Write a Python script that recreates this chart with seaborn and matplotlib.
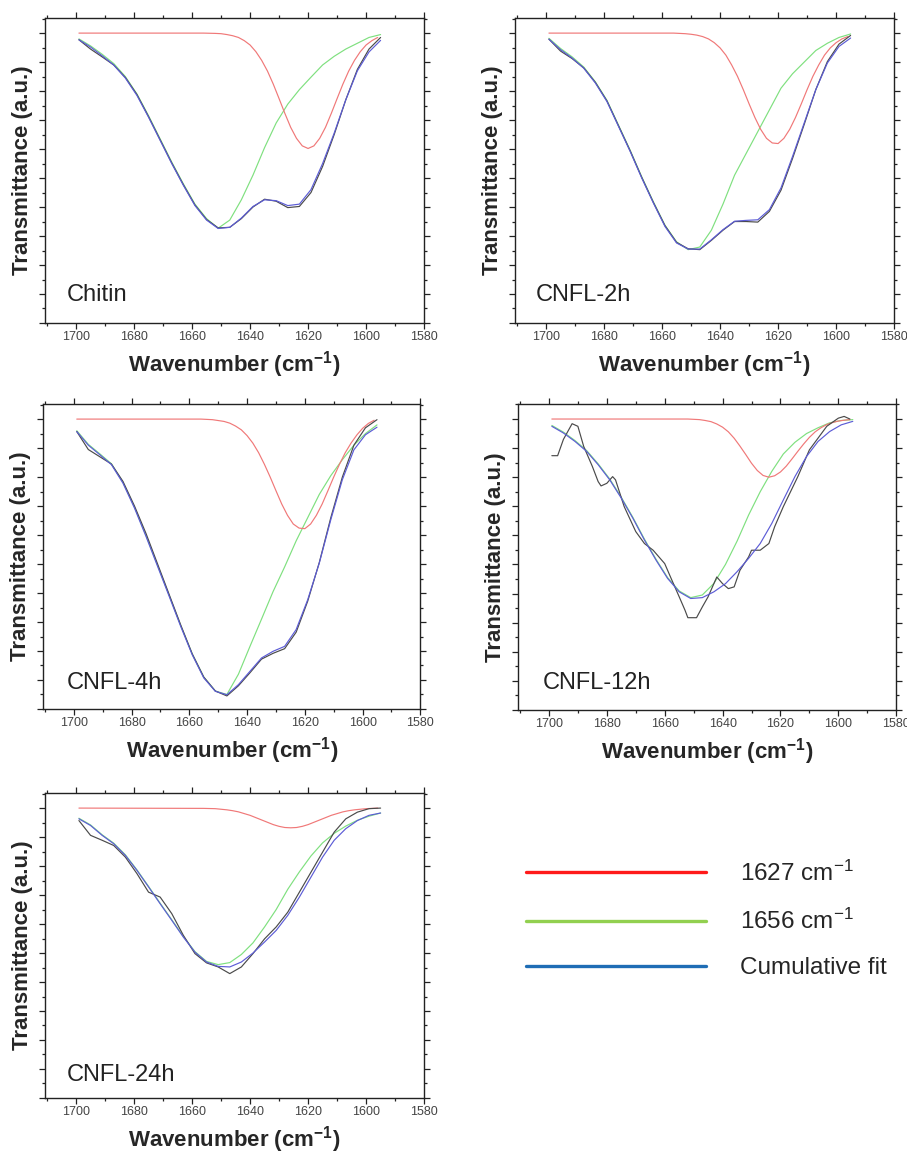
import numpy as np
import pandas as pd
import matplotlib
matplotlib.use('Agg')
import matplotlib.pyplot as plt
from matplotlib.lines import Line2D
from matplotlib.ticker import MultipleLocator
import seaborn as sns

# Wavenumber grid (cm-1) shared by the 1656 band, the fit and most spectra
wn = [1699, 1695, 1691, 1687, 1683, 1679, 1675, 1671, 1667, 1663, 1659, 1655, 1651,
      1647, 1643, 1639, 1635, 1631, 1627, 1623, 1619, 1615, 1611, 1607, 1603, 1599, 1595]
# finer grid for the narrower 1627 band
wn_red = [1699, 1656, 1652, 1650, 1648, 1646, 1644, 1642, 1640, 1638, 1636, 1634, 1632,
          1630, 1628, 1626, 1624, 1622, 1620, 1618, 1616, 1614, 1612, 1610, 1608, 1606,
          1604, 1602, 1600, 1598, 1596]

# Chitin
chitin_red = [10, 10, 9.99, 9.98, 9.95, 9.91, 9.85, 9.74, 9.59, 9.36, 9.06, 8.69, 8.24,
              7.74, 7.23, 6.75, 6.37, 6.11, 6.02, 6.11, 6.37, 6.75, 7.23, 7.74, 8.24, 8.69,
              9.06, 9.36, 9.59, 9.74, 9.85]
chitin_green = [9.80, 9.56, 9.27, 8.95, 8.50, 7.90, 7.15, 6.35, 5.55, 4.80, 4.10, 3.60, 3.27,
                3.55, 4.25, 5.10, 6.05, 6.90, 7.55, 8.05, 8.48, 8.90, 9.20, 9.45, 9.65, 9.85, 9.95]
chitin_fit = [9.77, 9.52, 9.22, 8.90, 8.45, 7.85, 7.10, 6.30, 5.50, 4.75, 4.05, 3.55, 3.26,
              3.30, 3.62, 4.02, 4.25, 4.22, 4.05, 4.10, 4.60, 5.50, 6.55, 7.70, 8.70, 9.35, 9.75]
chitin_data = [9.77, 9.45, 9.18, 8.90, 8.47, 7.88, 7.12, 6.32, 5.52, 4.77, 4.07, 3.57, 3.28,
               3.30, 3.60, 4.00, 4.27, 4.20, 3.98, 4.02, 4.50, 5.40, 6.50, 7.70, 8.75, 9.45, 9.85]

# CNFL-2h
cnfl2_red = [10, 10, 9.98, 9.96, 9.93, 9.88, 9.80, 9.67, 9.49, 9.24, 8.90, 8.51, 8.05,
             7.56, 7.09, 6.68, 6.37, 6.21, 6.19, 6.37, 6.68, 7.09, 7.56, 8.05, 8.51, 8.90,
             9.24, 9.49, 9.67, 9.80, 9.88]
cnfl2_green = [9.82, 9.47, 9.18, 8.83, 8.32, 7.68, 6.82, 5.96, 5.04, 4.18, 3.37, 2.80, 2.53,
               2.62, 3.20, 4.10, 5.10, 5.85, 6.60, 7.35, 8.10, 8.60, 9.00, 9.40, 9.65, 9.85, 9.97]
cnfl2_fit = [9.79, 9.43, 9.14, 8.79, 8.28, 7.64, 6.78, 5.92, 5.00, 4.14, 3.33, 2.76, 2.55,
             2.55, 2.87, 3.22, 3.51, 3.54, 3.56, 3.91, 4.66, 5.75, 6.90, 8.05, 8.97, 9.54, 9.83]
cnfl2_data = [9.79, 9.38, 9.12, 8.80, 8.30, 7.66, 6.80, 5.94, 5.02, 4.16, 3.36, 2.78, 2.56,
              2.53, 2.85, 3.20, 3.50, 3.50, 3.48, 3.85, 4.58, 5.68, 6.85, 8.05, 9.02, 9.62, 9.92]

# CNFL-4h
cnfl4_red = [10, 10, 9.98, 9.95, 9.92, 9.86, 9.76, 9.63, 9.43, 9.17, 8.84, 8.44, 8.00,
             7.53, 7.07, 6.68, 6.38, 6.24, 6.22, 6.38, 6.68, 7.07, 7.53, 8.00, 8.44, 8.84,
             9.17, 9.45, 9.68, 9.85, 9.96]
cnfl4_green = [9.60, 9.13, 8.80, 8.46, 7.82, 6.96, 5.98, 4.95, 3.92, 2.88, 1.90, 1.10, 0.62,
               0.50, 1.20, 2.16, 3.10, 4.05, 4.90, 5.80, 6.60, 7.40, 8.05, 8.60, 9.10, 9.50, 9.80]
cnfl4_fit = [9.57, 9.10, 8.77, 8.43, 7.79, 6.93, 5.95, 4.92, 3.89, 2.85, 1.87, 1.07, 0.61,
             0.49, 0.84, 1.30, 1.76, 1.99, 2.16, 2.74, 3.77, 5.03, 6.53, 7.91, 8.94, 9.46, 9.72]
cnfl4_data = [9.57, 8.95, 8.70, 8.45, 7.85, 7.00, 6.05, 5.00, 3.95, 2.90, 1.90, 1.10, 0.62,
              0.45, 0.80, 1.25, 1.72, 1.92, 2.08, 2.65, 3.72, 5.05, 6.60, 8.00, 9.10, 9.70, 9.98]

# CNFL-12h
cnfl12_red = [10, 10, 10.0, 9.99, 9.98, 9.95, 9.91, 9.83, 9.72, 9.56, 9.34, 9.07, 8.78,
              8.48, 8.23, 8.06, 8.00, 8.05, 8.18, 8.38, 8.63, 8.89, 9.14, 9.37, 9.56, 9.70,
              9.81, 9.88, 9.93, 9.96, 9.98]
cnfl12_green = [9.78, 9.55, 9.26, 8.92, 8.46, 7.94, 7.31, 6.62, 5.87, 5.18, 4.55, 4.09, 3.86,
                3.95, 4.35, 5.00, 5.80, 6.70, 7.50, 8.20, 8.80, 9.20, 9.50, 9.70, 9.87, 9.95, 9.98]
cnfl12_fit = [9.75, 9.52, 9.23, 8.89, 8.43, 7.91, 7.28, 6.59, 5.84, 5.15, 4.52, 4.06, 3.83,
              3.86, 4.06, 4.34, 4.75, 5.21, 5.72, 6.41, 7.22, 8.02, 8.71, 9.23, 9.57, 9.80, 9.92]
wn_12h_data = [1699, 1697, 1695, 1692, 1690, 1688, 1685, 1683, 1682, 1680, 1678, 1677, 1674,
               1670, 1667, 1664, 1660, 1658, 1655, 1653, 1652, 1649, 1647, 1645, 1642, 1640,
               1638, 1636, 1634, 1631, 1630, 1627, 1624, 1622, 1619, 1614, 1610, 1604, 1600,
               1598, 1596]
cnfl12_data = [8.74, 8.74, 9.30, 9.84, 9.75, 9.06, 8.37, 7.85, 7.70, 7.79, 8.02, 7.91, 6.99,
               6.13, 5.72, 5.49, 5.03, 4.57, 3.89, 3.43, 3.17, 3.17, 3.54, 3.89, 4.57, 4.34,
               4.17, 4.23, 4.80, 5.26, 5.49, 5.49, 5.72, 6.30, 6.99, 8.02, 8.94, 9.75, 10.03,
               10.09, 10.0]

# CNFL-24h
cnfl24_red = [10, 9.99, 9.98, 9.96, 9.94, 9.91, 9.87, 9.81, 9.75, 9.67, 9.59, 9.51, 9.43,
              9.37, 9.33, 9.32, 9.33, 9.37, 9.43, 9.51, 9.59, 9.67, 9.75, 9.81, 9.87, 9.91,
              9.94, 9.96, 9.98, 9.99, 10.0]
cnfl24_green = [9.65, 9.42, 9.08, 8.79, 8.39, 7.87, 7.30, 6.72, 6.15, 5.57, 5.05, 4.71, 4.60,
                4.67, 4.95, 5.35, 5.90, 6.50, 7.20, 7.80, 8.35, 8.80, 9.13, 9.38, 9.58, 9.72, 9.83]
cnfl24_fit = [9.63, 9.40, 9.06, 8.77, 8.37, 7.85, 7.28, 6.70, 6.13, 5.55, 5.03, 4.69, 4.54,
              4.52, 4.69, 5.00, 5.38, 5.78, 6.30, 6.93, 7.62, 8.31, 8.89, 9.29, 9.57, 9.75, 9.83]
cnfl24_data = [9.57, 9.06, 8.89, 8.71, 8.31, 7.74, 7.10, 6.93, 6.36, 5.61, 4.98, 4.66, 4.52,
               4.29, 4.52, 4.98, 5.49, 5.90, 6.41, 7.10, 7.79, 8.48, 9.17, 9.63, 9.86, 9.98, 10.0]

sample_labels = ['Chitin', 'CNFL-2h', 'CNFL-4h', 'CNFL-12h', 'CNFL-24h']
legend_labels = ['1627 cm$^{-1}$', '1656 cm$^{-1}$', 'Cumulative fit']

panels = [
    (chitin_red, chitin_green, chitin_fit, wn, chitin_data),
    (cnfl2_red, cnfl2_green, cnfl2_fit, wn, cnfl2_data),
    (cnfl4_red, cnfl4_green, cnfl4_fit, wn, cnfl4_data),
    (cnfl12_red, cnfl12_green, cnfl12_fit, wn_12h_data, cnfl12_data),
    (cnfl24_red, cnfl24_green, cnfl24_fit, wn, cnfl24_data),
]

sns.set_style('ticks')
plt.rcParams['font.family'] = ['Liberation Sans', 'DejaVu Sans']
plt.rcParams['mathtext.fontset'] = 'custom'
plt.rcParams['mathtext.rm'] = 'Liberation Sans'
plt.rcParams['mathtext.bf'] = 'Liberation Sans:bold'
plt.rcParams['mathtext.default'] = 'regular'

line_colors = {'1656': '#7fe07f', '1627': '#f07878', 'data': '#4a4a4a', 'fit': '#5c5cd6'}
draw_order = ['1656', '1627', 'data', 'fit']

# axes rectangles in figure fractions (left, bottom, width, height)
rects = [
    (0.0496, 0.7206, 0.418, 0.2638),
    (0.5678, 0.7206, 0.418, 0.2638),
    (0.0474, 0.3867, 0.416, 0.2638),
    (0.5711, 0.3859, 0.417, 0.2647),
    (0.0496, 0.0502, 0.418, 0.2638),
]
label_pos = [(0.058, 0.092), (0.055, 0.092), (0.064, 0.085), (0.066, 0.089), (0.058, 0.075)]

fig = plt.figure(figsize=(9.07, 11.56), dpi=100)

for i, (red, green, fit, wn_data, data) in enumerate(panels):
    ax = fig.add_axes(rects[i])
    df = pd.concat([
        pd.DataFrame({'wn': wn, 'T': green, 'curve': '1656'}),
        pd.DataFrame({'wn': wn_red, 'T': red, 'curve': '1627'}),
        pd.DataFrame({'wn': wn_data, 'T': data, 'curve': 'data'}),
        pd.DataFrame({'wn': wn, 'T': fit, 'curve': 'fit'}),
    ], ignore_index=True)
    sns.lineplot(data=df, x='wn', y='T', hue='curve', hue_order=draw_order,
                 palette=line_colors, estimator=None, legend=False, lw=0.85, ax=ax)

    ax.set_xlim(1710.7, 1580)
    ax.set_ylim(0, 10.52)
    ax.xaxis.set_major_locator(MultipleLocator(20))
    ax.xaxis.set_minor_locator(MultipleLocator(10))
    ax.yaxis.set_major_locator(MultipleLocator(1))
    ax.yaxis.set_minor_locator(MultipleLocator(0.5))
    ax.tick_params(which='both', direction='out', top=True, right=True,
                   labelleft=False, color='#222222', width=0.9)
    ax.tick_params(which='major', length=4.5, labelsize=9, labelcolor='#444444', pad=1.5)
    ax.tick_params(which='minor', length=2.5)
    for sp in ax.spines.values():
        sp.set_linewidth(1.0)
        sp.set_color('#222222')
    ax.set_xlabel(r'Wavenumber (cm$^{\mathbf{-1}}$)', fontsize=16, fontweight='bold', labelpad=4)
    ax.set_ylabel('Transmittance (a.u.)', fontsize=16, fontweight='bold', labelpad=4)
    ax.text(label_pos[i][0], label_pos[i][1], sample_labels[i], transform=ax.transAxes,
            ha='left', va='center', fontsize=17, color='#222222')

handles = [Line2D([], [], color='#ff1a1a', lw=2.4),
           Line2D([], [], color='#92d050', lw=2.4),
           Line2D([], [], color='#1f6db5', lw=2.4)]
fig.legend(handles, legend_labels, loc='center left', bbox_to_anchor=(526 / 907, 1 - 920 / 1156),
           frameon=False, fontsize=17.5, handlelength=7.4, handletextpad=1.4,
           labelspacing=0.95, borderpad=0, borderaxespad=0)

plt.savefig('out.png', dpi=100)
plt.close()
